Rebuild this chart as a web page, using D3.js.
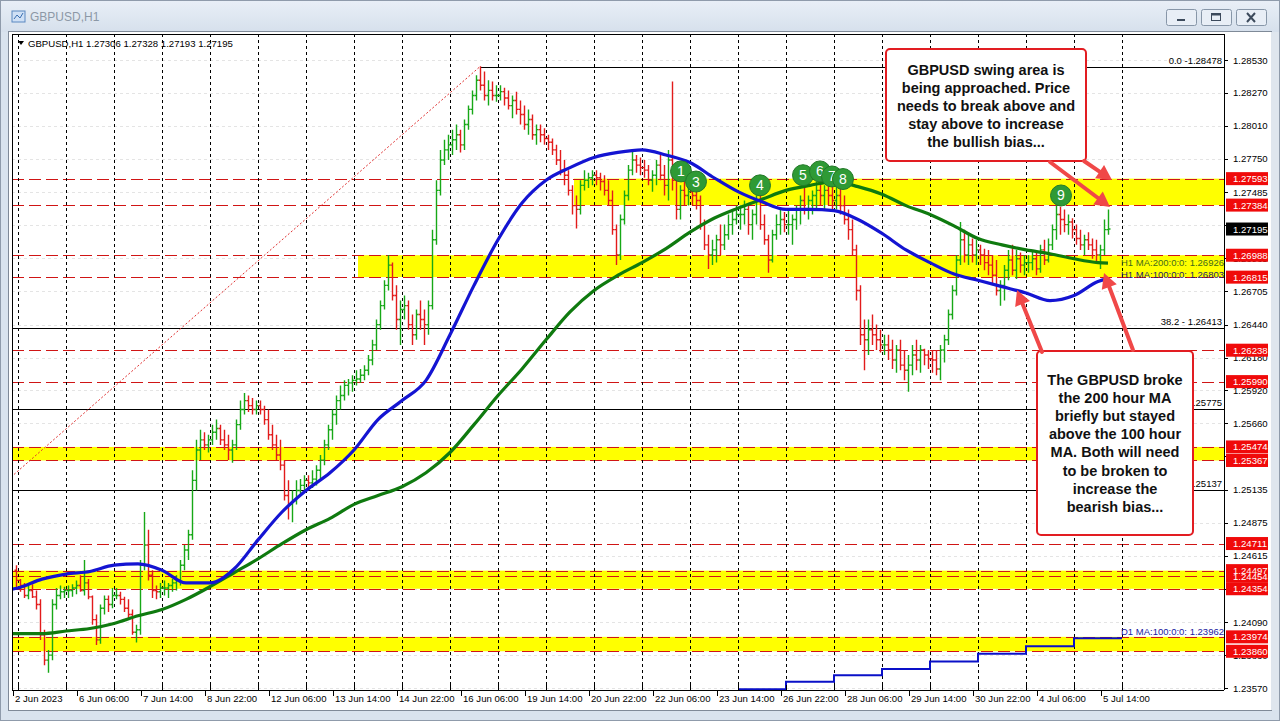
<!DOCTYPE html>
<html><head><meta charset="utf-8">
<script src="https://cdn.jsdelivr.net/npm/d3@7"></script>
<style>
body{margin:0;background:#dde6f0;overflow:hidden}
svg{display:block}
text{font-family:"Liberation Sans",Arial,sans-serif}
</style></head><body>
<svg id="c" width="1280" height="721"></svg>
<script>
// ---------------- DATA ----------------
// 2-hour OHLC bars, first bar = 2 Jun 22:00, then every 2 trading hours (open = previous close)
const firstOpen = 1.2450;
const barHigh = [1.2454,
 1.2443,1.2440,1.2438,1.2439,1.2434,1.2427,1.2403,1.2387,1.2427,1.2436,1.2438,1.2437,
 1.2438,1.2439,1.2442,1.2446,1.2458,1.2443,1.2430,1.2415,1.2423,1.2430,1.2430,1.2436,
 1.2436,1.2433,1.2429,1.2427,1.2419,1.2407,1.2458,1.2496,1.2482,1.2450,1.2438,1.2440,
 1.2442,1.2440,1.2443,1.2446,1.2458,1.2470,1.2482,1.2529,1.2553,1.2561,1.2559,1.2557,
 1.2565,1.2569,1.2565,1.2561,1.2557,1.2553,1.2569,1.2584,1.2590,1.2588,1.2586,1.2584,
 1.2584,1.2580,1.2577,1.2565,1.2557,1.2553,1.2537,1.2521,1.2513,1.2521,1.2522,1.2525,
 1.2525,1.2529,1.2533,1.2541,1.2553,1.2565,1.2577,1.2588,1.2596,1.2600,1.2601,1.2604,
 1.2608,1.2609,1.2612,1.2620,1.2632,1.2648,1.2663,1.2679,1.2699,1.2693,1.2675,1.2663,
 1.2667,1.2663,1.2652,1.2656,1.2663,1.2656,1.2663,1.2719,1.2758,1.2782,1.2790,1.2794,
 1.2798,1.2802,1.2798,1.2806,1.2817,1.2829,1.2841,1.2848,1.2844,1.2837,1.2836,1.2833,
 1.2833,1.2831,1.2829,1.2825,1.2828,1.2821,1.2817,1.2814,1.2810,1.2802,1.2802,1.2799,
 1.2794,1.2791,1.2786,1.2782,1.2774,1.2766,1.2754,1.2746,1.2758,1.2766,1.2764,1.2766,
 1.2766,1.2764,1.2762,1.2758,1.2750,1.2723,1.2731,1.2750,1.2770,1.2782,1.2778,1.2776,
 1.2774,1.2770,1.2766,1.2774,1.2778,1.2770,1.2782,1.2836,1.2762,1.2754,1.2758,1.2754,
 1.2754,1.2752,1.2746,1.2727,1.2715,1.2711,1.2715,1.2723,1.2723,1.2731,1.2735,1.2738,
 1.2738,1.2742,1.2738,1.2735,1.2746,1.2749,1.2731,1.2715,1.2719,1.2731,1.2735,1.2733,
 1.2735,1.2731,1.2738,1.2746,1.2754,1.2746,1.2750,1.2757,1.2758,1.2754,1.2756,1.2754,
 1.2754,1.2752,1.2746,1.2735,1.2727,1.2707,1.2675,1.2648,1.2648,1.2652,1.2644,1.2640,
 1.2636,1.2636,1.2632,1.2628,1.2632,1.2624,1.2620,1.2628,1.2632,1.2628,1.2625,1.2624,
 1.2624,1.2624,1.2628,1.2636,1.2656,1.2675,1.2699,1.2725,1.2719,1.2715,1.2712,1.2711,
 1.2707,1.2704,1.2703,1.2699,1.2695,1.2679,1.2691,1.2703,1.2707,1.2703,1.2701,1.2699,
 1.2699,1.2703,1.2701,1.2707,1.2711,1.2712,1.2723,1.2738,1.2737,1.2735,1.2731,1.2728,
 1.2723,1.2719,1.2715,1.2717,1.2712,1.2711,1.2707,1.2727,1.2735];
const barLow = [1.2436,
 1.2433,1.2428,1.2427,1.2428,1.2419,1.2395,1.2375,1.2369,1.2379,1.2419,1.2427,1.2428,
 1.2428,1.2429,1.2431,1.2433,1.2430,1.2427,1.2407,1.2391,1.2392,1.2415,1.2417,1.2420,
 1.2427,1.2423,1.2417,1.2411,1.2399,1.2393,1.2399,1.2450,1.2442,1.2428,1.2427,1.2428,
 1.2430,1.2428,1.2433,1.2434,1.2438,1.2450,1.2458,1.2474,1.2513,1.2537,1.2545,1.2543,
 1.2549,1.2553,1.2549,1.2545,1.2537,1.2535,1.2545,1.2561,1.2573,1.2575,1.2573,1.2573,
 1.2573,1.2565,1.2553,1.2545,1.2537,1.2529,1.2505,1.2490,1.2488,1.2502,1.2509,1.2513,
 1.2513,1.2515,1.2517,1.2522,1.2533,1.2545,1.2553,1.2565,1.2577,1.2584,1.2588,1.2591,
 1.2596,1.2598,1.2600,1.2604,1.2612,1.2624,1.2640,1.2656,1.2671,1.2663,1.2640,1.2628,
 1.2648,1.2640,1.2628,1.2632,1.2640,1.2628,1.2636,1.2656,1.2707,1.2746,1.2770,1.2774,
 1.2778,1.2782,1.2780,1.2782,1.2798,1.2810,1.2821,1.2829,1.2821,1.2817,1.2821,1.2820,
 1.2821,1.2817,1.2814,1.2807,1.2810,1.2802,1.2798,1.2794,1.2790,1.2786,1.2788,1.2786,
 1.2782,1.2778,1.2770,1.2762,1.2754,1.2746,1.2731,1.2720,1.2731,1.2750,1.2752,1.2754,
 1.2754,1.2750,1.2746,1.2738,1.2715,1.2691,1.2695,1.2723,1.2742,1.2762,1.2764,1.2762,
 1.2760,1.2754,1.2749,1.2754,1.2758,1.2746,1.2742,1.2750,1.2727,1.2727,1.2738,1.2738,
 1.2738,1.2735,1.2719,1.2703,1.2688,1.2691,1.2693,1.2699,1.2703,1.2711,1.2715,1.2723,
 1.2719,1.2723,1.2715,1.2711,1.2723,1.2719,1.2707,1.2685,1.2693,1.2711,1.2715,1.2717,
 1.2715,1.2707,1.2719,1.2723,1.2731,1.2727,1.2731,1.2735,1.2738,1.2735,1.2738,1.2735,
 1.2735,1.2731,1.2723,1.2711,1.2699,1.2663,1.2628,1.2608,1.2620,1.2628,1.2624,1.2622,
 1.2620,1.2616,1.2609,1.2606,1.2608,1.2600,1.2591,1.2604,1.2608,1.2606,1.2612,1.2609,
 1.2606,1.2604,1.2600,1.2614,1.2628,1.2648,1.2667,1.2691,1.2693,1.2691,1.2693,1.2691,
 1.2691,1.2687,1.2683,1.2675,1.2667,1.2659,1.2663,1.2679,1.2683,1.2680,1.2685,1.2683,
 1.2685,1.2687,1.2683,1.2685,1.2691,1.2693,1.2703,1.2711,1.2715,1.2717,1.2715,1.2712,
 1.2707,1.2703,1.2699,1.2703,1.2696,1.2693,1.2688,1.2699,1.2715];
const barClose = [1.2442,
 1.2438,1.2430,1.2434,1.2429,1.2423,1.2399,1.2379,1.2383,1.2423,1.2430,1.2433,1.2434,
 1.2434,1.2436,1.2438,1.2434,1.2440,1.2429,1.2411,1.2395,1.2420,1.2427,1.2423,1.2430,
 1.2430,1.2427,1.2420,1.2415,1.2401,1.2403,1.2454,1.2470,1.2446,1.2434,1.2433,1.2436,
 1.2436,1.2438,1.2440,1.2442,1.2454,1.2466,1.2478,1.2521,1.2545,1.2553,1.2549,1.2553,
 1.2559,1.2562,1.2553,1.2549,1.2545,1.2549,1.2565,1.2577,1.2584,1.2580,1.2577,1.2580,
 1.2577,1.2569,1.2557,1.2549,1.2541,1.2533,1.2509,1.2502,1.2505,1.2513,1.2517,1.2521,
 1.2519,1.2522,1.2529,1.2537,1.2549,1.2561,1.2573,1.2584,1.2588,1.2596,1.2598,1.2600,
 1.2601,1.2604,1.2608,1.2616,1.2628,1.2644,1.2659,1.2675,1.2691,1.2667,1.2648,1.2656,
 1.2659,1.2644,1.2636,1.2652,1.2648,1.2644,1.2659,1.2711,1.2750,1.2774,1.2782,1.2786,
 1.2790,1.2794,1.2786,1.2802,1.2814,1.2825,1.2837,1.2833,1.2825,1.2829,1.2825,1.2825,
 1.2828,1.2823,1.2817,1.2821,1.2814,1.2810,1.2802,1.2806,1.2794,1.2798,1.2794,1.2791,
 1.2788,1.2782,1.2774,1.2766,1.2762,1.2750,1.2738,1.2735,1.2754,1.2758,1.2760,1.2762,
 1.2760,1.2757,1.2750,1.2742,1.2719,1.2699,1.2727,1.2746,1.2766,1.2774,1.2770,1.2768,
 1.2766,1.2758,1.2762,1.2770,1.2762,1.2754,1.2774,1.2758,1.2735,1.2750,1.2746,1.2749,
 1.2746,1.2742,1.2723,1.2707,1.2699,1.2703,1.2711,1.2707,1.2715,1.2723,1.2727,1.2731,
 1.2731,1.2735,1.2723,1.2731,1.2742,1.2723,1.2711,1.2695,1.2715,1.2723,1.2727,1.2723,
 1.2723,1.2727,1.2735,1.2742,1.2735,1.2742,1.2746,1.2750,1.2746,1.2750,1.2746,1.2742,
 1.2746,1.2738,1.2727,1.2719,1.2703,1.2671,1.2636,1.2632,1.2640,1.2636,1.2632,1.2628,
 1.2628,1.2624,1.2616,1.2624,1.2612,1.2608,1.2612,1.2620,1.2616,1.2624,1.2620,1.2617,
 1.2616,1.2609,1.2624,1.2632,1.2652,1.2671,1.2695,1.2711,1.2699,1.2707,1.2699,1.2703,
 1.2699,1.2693,1.2691,1.2683,1.2671,1.2675,1.2687,1.2695,1.2687,1.2696,1.2691,1.2693,
 1.2693,1.2696,1.2688,1.2703,1.2695,1.2707,1.2719,1.2731,1.2727,1.2723,1.2725,1.2719,
 1.2712,1.2707,1.2711,1.2707,1.2703,1.2699,1.2703,1.2719,1.27195];

// Moving averages read every 12 trading hours (hours since 5 Jun 00:00)
const maHours = [-3,0,12,24,36,48,60,72,84,96,108,120,132,144,156,168,180,192,204,216,228,240,252,264,276,288,300,312,324,336,348,360,372,384,396,408,420,432,444,456,468,480,492,504,516,528,540,545];
const ma100 = [1.2435,1.2436,1.2443,1.2447,1.2449,1.2454,1.2455,1.2450,1.2440,1.2440,1.2451,1.2474,1.2496,1.2513,1.2527,1.2545,1.2569,1.2584,1.2600,1.2636,1.2675,1.2711,1.2740,1.2758,1.2768,1.2776,1.2780,1.2782,1.2778,1.2772,1.2760,1.2749,1.2741,1.2735,1.2735,1.2734,1.2727,1.2716,1.2703,1.2693,1.2684,1.2679,1.2674,1.2669,1.2663,1.2667,1.2678,1.26803];
const ma200 = [1.2400,1.2400,1.2400,1.2402,1.2404,1.2408,1.2414,1.2419,1.2427,1.2437,1.2448,1.2459,1.2471,1.2482,1.2491,1.2502,1.2509,1.2516,1.2527,1.2543,1.2565,1.2588,1.2609,1.2632,1.2654,1.2671,1.2683,1.2693,1.2704,1.2717,1.2728,1.2736,1.2743,1.2750,1.2754,1.2757,1.2753,1.2747,1.2738,1.2731,1.2722,1.2712,1.2707,1.2703,1.2700,1.2696,1.2693,1.26926];
const d1Hours = [360,384,408,432,456,480,504,528,552];
const d1ma100 = [1.2356,1.2362,1.2367,1.2372,1.2378,1.2384,1.2390,1.23962,1.23962];

const yTicks = [1.28530,1.28270,1.28010,1.27750,1.27485,1.27225,1.26965,1.26705,1.26440,1.26180,1.25920,1.25660,1.25400,1.25135,1.24875,1.24615,1.24355,1.24090,1.23830,1.23570];
const xTickLabels = ['2 Jun 2023','6 Jun 06:00','7 Jun 14:00','8 Jun 22:00','12 Jun 06:00','13 Jun 14:00','14 Jun 22:00','16 Jun 06:00','19 Jun 14:00','20 Jun 22:00','22 Jun 06:00','23 Jun 14:00','26 Jun 22:00','28 Jun 06:00','29 Jun 14:00','30 Jun 22:00','4 Jul 06:00','5 Jul 14:00'];
const xTickHours = [-2,30,62,94,126,158,190,222,254,286,318,350,382,414,446,478,510,542];

const redLevels = [1.27593,1.27384,1.26988,1.26815,1.26238,1.25990,1.25474,1.25367,1.24711,1.24497,1.24454,1.24354,1.23974,1.23860];
const bandTop = [1.27593,1.26988,1.25474,1.24497,1.23974];
const bandBottom = [1.27384,1.26815,1.25367,1.24354,1.23860];
const bandStartHour = [278,170,-10,-10,-10];
const fibLevels = [0.0,38.2,50.0,61.8];
const fibPrices = [1.28478,1.26413,1.25775,1.25137];
const fibHigh = {hour:231, price:1.28478};
const fibLow = {hour:-160, price:1.23072};
const currentPrice = 1.27195;

const markerLabels = ['1','3','4','5','6','7','8','9'];
const markerHours = [331.5,339,371,392.5,401,407,412.5,521.5];
const markerPrices = [1.2765,1.2757,1.2754,1.2762,1.2765,1.2761,1.2759,1.2746];

const note1 = ['GBPUSD swing area is','being approached. Price','needs to break above and','stay above to increase','the bullish bias...'];
const note2 = ['The GBPUSD broke','the 200 hour MA','briefly but stayed','above the 100 hour','MA. Both will need','to be broken to','increase the','bearish bias...'];

// ---------------- SCALES ----------------
const L = 12, R = 1224, T = 34, B = 690;
const x = d3.scaleLinear().domain([0, 24]).range([18, 66]);
const y = d3.scaleLinear().domain([1.23570, 1.28530]).range([688, 60]);

const svg = d3.select('#c');

// ---------------- WINDOW CHROME ----------------
const defs = svg.append('defs');
const tg = defs.append('linearGradient').attr('id','tb').attr('x1',0).attr('y1',0).attr('x2',0).attr('y2',1);
tg.append('stop').attr('offset',0).attr('stop-color','#e9eff7');
tg.append('stop').attr('offset',1).attr('stop-color','#d6e0ec');
svg.append('rect').attr('width',1280).attr('height',721).attr('fill','#d9e3ee');
svg.append('rect').attr('x',0).attr('y',0).attr('width',1280).attr('height',32).attr('fill','url(#tb)');
svg.append('rect').attr('x',0.5).attr('y',0.5).attr('width',1279).attr('height',720).attr('fill','none').attr('stroke','#8f9bab');
// title icon
svg.append('rect').attr('x',12).attr('y',11).attr('width',13).attr('height',11).attr('fill','#cfe0f5').attr('stroke','#5a88c0');
svg.append('path').attr('d','M14,19 L17,15 L20,18 L23,13').attr('stroke','#3a6fb0').attr('fill','none');
svg.append('text').attr('x',30).attr('y',21).attr('font-size',12).attr('fill','#8c98a6').text('GBPUSD,H1');
// window buttons
const btnX = [1166,1201,1236];
btnX.forEach((bx,i)=>{
  svg.append('rect').attr('x',bx+0.5).attr('y',9.5).attr('width',30).attr('height',16).attr('rx',2)
    .attr('fill','#e8eef6').attr('stroke','#8796a8');
  if(i===0) svg.append('rect').attr('x',bx+11).attr('y',19).attr('width',8).attr('height',2).attr('fill','#3c4a5c');
  if(i===1){ svg.append('rect').attr('x',bx+10.5).attr('y',13.5).attr('width',9).attr('height',7).attr('fill','none').attr('stroke','#3c4a5c');
             svg.append('rect').attr('x',bx+10.5).attr('y',13.5).attr('width',9).attr('height',2).attr('fill','#3c4a5c'); }
  if(i===2) svg.append('path').attr('d',`M${bx+11},${13} L${bx+19},${22} M${bx+19},${13} L${bx+11},${22}`).attr('stroke','#3c4a5c').attr('stroke-width',2);
});
// chart panel
svg.append('rect').attr('x',8.5).attr('y',31.5).attr('width',1263).attr('height',679).attr('fill','#ffffff').attr('stroke','#7f8a98');
svg.append('rect').attr('x',1271).attr('y',32).attr('width',8).attr('height',678).attr('fill','#dfe6ee');

// ---------------- CLIP ----------------
defs.append('clipPath').attr('id','plot').append('rect').attr('x',L).attr('y',T).attr('width',R-L).attr('height',B-T);
const g = svg.append('g').attr('clip-path','url(#plot)');

// light grid
g.selectAll('line.hg').data(yTicks).join('line')
  .attr('x1',L).attr('x2',R).attr('y1',d=>Math.round(y(d))+0.5).attr('y2',d=>Math.round(y(d))+0.5)
  .attr('stroke','#e4e4e4').attr('stroke-dasharray','3,3');

// yellow bands
g.selectAll('rect.band').data(bandTop).join('rect')
  .attr('x',(d,i)=>Math.max(L,x(bandStartHour[i]))).attr('y',d=>y(d))
  .attr('width',(d,i)=>R-Math.max(L,x(bandStartHour[i])))
  .attr('height',(d,i)=>y(bandBottom[i])-y(d)).attr('fill','#ffff00');

// red dashed levels
g.selectAll('line.lvl').data(redLevels).join('line')
  .attr('x1',L).attr('x2',R).attr('y1',d=>Math.round(y(d))+0.5).attr('y2',d=>Math.round(y(d))+0.5)
  .attr('stroke','#d01515').attr('stroke-width',1.2).attr('stroke-dasharray','12,5');

// fibonacci lines
g.selectAll('line.fib').data(fibPrices).join('line')
  .attr('x1',(d,i)=>i===0?x(fibHigh.hour):L).attr('x2',R)
  .attr('y1',d=>Math.round(y(d))+0.5).attr('y2',d=>Math.round(y(d))+0.5)
  .attr('stroke','#000').attr('stroke-width',1);
g.append('line').attr('x1',x(fibLow.hour)).attr('y1',y(fibLow.price)).attr('x2',x(fibHigh.hour)).attr('y2',y(fibHigh.price))
  .attr('stroke','#e03030').attr('stroke-width',1).attr('stroke-dasharray','2,2');

// day separators
const dayHours = d3.range(0, 553, 24);
g.selectAll('line.sep').data(dayHours).join('line')
  .attr('x1',d=>Math.round(x(d))+0.5).attr('x2',d=>Math.round(x(d))+0.5).attr('y1',T).attr('y2',B)
  .attr('stroke','#000').attr('stroke-dasharray','3,3');

// D1 MA step line
const d1line = d3.line().x((d,i)=>x(d1Hours[i])).y(d=>y(d)).curve(d3.curveStepAfter);
g.append('path').attr('d',d1line(d1ma100)).attr('fill','none').attr('stroke','#0a10c8').attr('stroke-width',2);

// OHLC bars
const bars = barClose.map((c,i)=>({h:barHigh[i], l:barLow[i], c:c, o: i===0?firstOpen:barClose[i-1], t:-2+2*i}));
g.selectAll('path.bar').data(bars).join('path')
  .attr('d',d=>{const cx=Math.round(x(d.t+1))+0.5; return `M${cx},${y(d.h)}V${y(d.l)}M${cx-2},${y(d.o)}H${cx}M${cx},${y(d.c)}H${cx+2}`;})
  .attr('stroke',d=>d.c>=d.o?'#17a817':'#e21b1b').attr('stroke-width',1.4).attr('fill','none');

// moving averages
const maLine = arr => d3.line().x((d,i)=>x(maHours[i])).y(d=>y(d)).curve(d3.curveMonotoneX)(arr);
g.append('path').attr('d',maLine(ma200)).attr('fill','none').attr('stroke','#0f7a0f').attr('stroke-width',3.2);
g.append('path').attr('d',maLine(ma100)).attr('fill','none').attr('stroke','#1414d2').attr('stroke-width',3.2);

// numbered markers
const mk = g.selectAll('g.mk').data(markerLabels).join('g')
  .attr('transform',(d,i)=>`translate(${x(markerHours[i])},${y(markerPrices[i])})`);
mk.append('circle').attr('r',10.5).attr('fill','#2f9a35').attr('stroke','#237a28').attr('stroke-width',1);
mk.append('text').attr('text-anchor','middle').attr('dy',5).attr('font-size',14).attr('fill','#fff').text(d=>d);

// fib labels
g.selectAll('text.fibt').data(fibPrices).join('text')
  .attr('x',R-2).attr('y',d=>y(d)-3).attr('text-anchor','end').attr('font-size',9.5).attr('fill','#000')
  .text((d,i)=> i===0 ? `${fibLevels[i].toFixed(1)} -${d.toFixed(5)}` : `${fibLevels[i].toFixed(1)} - ${d.toFixed(5)}`);

// MA labels
g.append('text').attr('x',1121).attr('y',y(1.26926)+3).attr('font-size',9.5).attr('fill','#3f6a1c').text('H1 MA:200:0:0: 1.26926');
g.append('text').attr('x',1121).attr('y',y(1.26803)-1).attr('font-size',9.5).attr('fill','#1a1a70').text('H1 MA:100:0:0: 1.26803');
g.append('text').attr('x',1121).attr('y',y(1.23962)-3).attr('font-size',9.5).attr('fill','#1a1aa0').text('D1 MA:100:0:0: 1.23962');

// header
g.append('path').attr('d','M18,41 L24,41 L21,45 Z').attr('fill','#000');
g.append('text').attr('x',28).attr('y',47).attr('font-size',9.6).attr('fill','#000')
  .text('GBPUSD,H1  1.27306 1.27328 1.27193 1.27195');

// ---------------- ANNOTATIONS ----------------
function note(lines, bx, by, bw, bh, ty){
  svg.append('rect').attr('x',bx).attr('y',by).attr('width',bw).attr('height',bh).attr('rx',4)
    .attr('fill','#fff').attr('stroke','#e21d22').attr('stroke-width',2);
  svg.append('g').selectAll('text').data(lines).join('text')
    .attr('x',bx+bw/2).attr('y',(d,i)=>ty+i*18.1).attr('text-anchor','middle')
    .attr('font-size',14.5).attr('font-weight','bold').attr('fill','#111').text(d=>d);
}
note(note1, 886, 49, 200, 112, 75);
note(note2, 1037, 351, 156, 184, 385);

function arrow(x1,y1,x2,y2){
  const a = Math.atan2(y2-y1,x2-x1), hl=15, hw=8;
  const bx = x2-hl*Math.cos(a), by = y2-hl*Math.sin(a);
  svg.append('line').attr('x1',x1).attr('y1',y1).attr('x2',bx).attr('y2',by)
    .attr('stroke','#f04848').attr('stroke-width',4).attr('stroke-linecap','round');
  const px = -Math.sin(a), py = Math.cos(a);
  svg.append('path').attr('d',`M${x2},${y2}L${bx+px*hw},${by+py*hw}L${bx-px*hw},${by-py*hw}Z`).attr('fill','#f04848');
}
arrow(1084,161,1112,180);
arrow(1050,162,1110,207);
arrow(1042,352,1017,290);
arrow(1133,350,1104,273);

// ---------------- AXES ----------------
svg.append('line').attr('x1',R+0.5).attr('x2',R+0.5).attr('y1',T).attr('y2',B).attr('stroke','#000');
svg.append('line').attr('x1',L).attr('x2',R).attr('y1',B+0.5).attr('y2',B+0.5).attr('stroke','#000');
svg.append('line').attr('x1',L+0.5).attr('x2',L+0.5).attr('y1',T).attr('y2',B).attr('stroke','#000');
svg.append('line').attr('x1',L).attr('x2',R).attr('y1',T+0.5).attr('y2',T+0.5).attr('stroke','#000');

const ya = svg.append('g');
ya.selectAll('line').data(yTicks).join('line')
  .attr('x1',R).attr('x2',R+4).attr('y1',d=>Math.round(y(d))+0.5).attr('y2',d=>Math.round(y(d))+0.5).attr('stroke','#000');
ya.selectAll('text').data(yTicks).join('text')
  .attr('x',R+9).attr('y',d=>y(d)+3.5).attr('font-size',9.6).attr('fill','#000').text(d=>d.toFixed(5));

// level price tags
const tags = svg.append('g');
tags.selectAll('rect').data(redLevels).join('rect')
  .attr('x',R+2).attr('y',d=>y(d)-6.5).attr('width',42).attr('height',13).attr('fill','#f00a0a');
tags.selectAll('text').data(redLevels).join('text')
  .attr('x',R+9).attr('y',d=>y(d)+3.5).attr('font-size',9.6).attr('fill','#fff').text(d=>d.toFixed(5));
svg.append('rect').attr('x',R+2).attr('y',y(currentPrice)-6.5).attr('width',42).attr('height',13).attr('fill','#000');
svg.append('text').attr('x',R+9).attr('y',y(currentPrice)+3.5).attr('font-size',9.6).attr('fill','#fff').text(currentPrice.toFixed(5));

// x axis
const xa = svg.append('g');
xa.selectAll('line.dt').data(dayHours.filter(h=>x(h)<R)).join('line')
  .attr('x1',d=>Math.round(x(d))+0.5).attr('x2',d=>Math.round(x(d))+0.5).attr('y1',B-5).attr('y2',B).attr('stroke','#000');
xa.selectAll('line.lt').data(xTickHours).join('line')
  .attr('x1',d=>Math.round(x(d))-0.5).attr('x2',d=>Math.round(x(d))-0.5).attr('y1',B).attr('y2',B+6).attr('stroke','#000');
xa.selectAll('text').data(xTickLabels).join('text')
  .attr('x',(d,i)=>x(xTickHours[i])+1).attr('y',B+12).attr('font-size',9.6).attr('fill','#000').text(d=>d);
</script></body></html>
